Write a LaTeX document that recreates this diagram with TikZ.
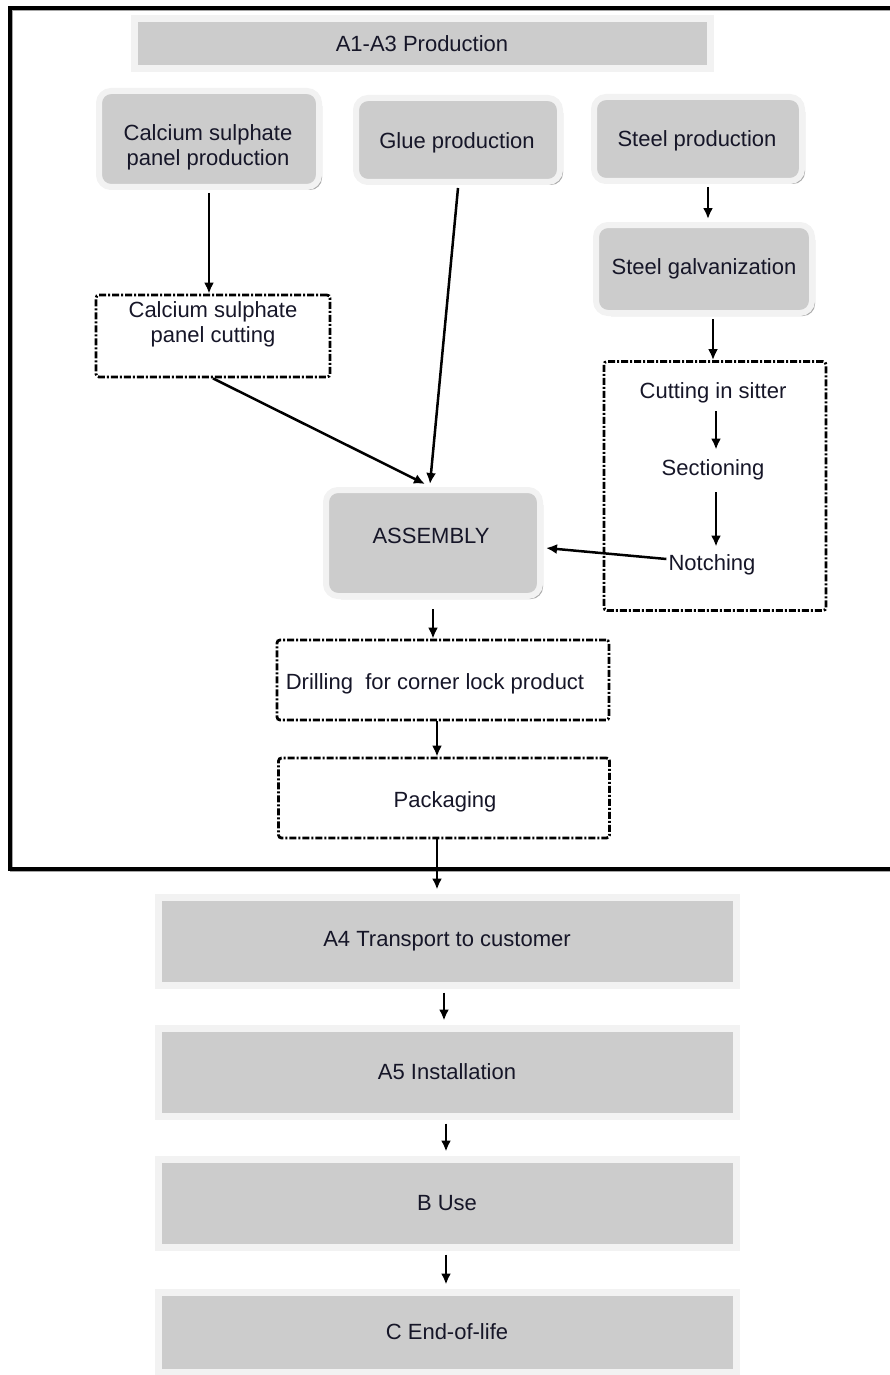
\documentclass[tikz,border=0pt]{standalone}
\usepackage{fontspec}
\setmainfont{Liberation Sans}
\usetikzlibrary{arrows.meta,shadows,calc}
\definecolor{txt}{HTML}{161628}
\definecolor{boxgray}{HTML}{CCCCCC}
\definecolor{rim}{HTML}{F2F2F2}
\definecolor{shade}{HTML}{ABABAB}
\begin{document}
\begin{tikzpicture}[x=1pt,y=-1pt,
  every node/.style={font=\fontsize{22}{25}\selectfont, text=txt, align=center, inner sep=0pt},
  rbox/.style={fill=boxgray, draw=rim, line width=6pt, rounded corners=12pt,
    drop shadow={shadow xshift=3pt, shadow yshift=-3pt, fill=shade, opacity=1}},
  sbox/.style={fill=boxgray, draw=rim, line width=7pt,
    drop shadow={shadow xshift=3pt, shadow yshift=-3pt, fill=shade, opacity=1}},
  dbox/.style={draw=black, line width=2.8pt, dash pattern=on 7pt off 2pt on 2pt off 2pt, rounded corners=3pt},
  arr/.style={draw=black, line width=2.5pt, -{Latex[length=11pt,width=10pt]}},
]
\useasboundingbox (0,0) rectangle (889,1375);
% outer frame
\draw[black!35, line width=3.5pt] (11.5,9.5) rectangle (902,870.5);
\draw[black, line width=3.5pt] (10,8) rectangle (900,869);

\node[sbox, minimum width=576, minimum height=50] (prod) at (422,44) {A1-A3 Production};

\node[rbox, minimum width=220, minimum height=96] (calcprod) at (209,139) {};
\node (calcprodtxt) at (208,147) {Calcium sulphate\\panel production};
\node[rbox, minimum width=204, minimum height=84] (glue) at (458,140) {};
\node (gluetxt) at (457,143) {Glue production};
\node[rbox, minimum width=208, minimum height=84] (steelprod) at (698,139) {};
\node (steelprodtxt) at (697,141) {Steel production};
\node[rbox, minimum width=216, minimum height=88] (galv) at (704,269) {Steel galvanization};

\node[dbox, minimum width=234, minimum height=82] (calccut) at (213,336) {};
\node (calccuttxt) at (213,324) {Calcium sulphate\\panel cutting};

\node[dbox, minimum width=222, minimum height=249] (steelbox) at (715,486) {};
\node (sitter) at (713,393) {Cutting in sitter};
\node (section) at (713,470) {Sectioning};
\node (notch) at (712,565) {Notching};

\node[rbox, minimum width=214, minimum height=106] (assembly) at (433,543) {};
\node (asmtxt) at (431,536) {ASSEMBLY};

\node[dbox, minimum width=332, minimum height=80] (drill) at (443,680) {};
\node (drilltxt) at (435,684) {Drilling\ \ for corner lock product};

\node[dbox, minimum width=331, minimum height=80] (pack) at (444,798) {};
\node (packtxt) at (445,802) {Packaging};

\node[sbox, minimum width=578, minimum height=88] (a4) at (447,941) {A4 Transport to customer};
\node[sbox, minimum width=578, minimum height=88] (a5) at (447,1072) {A5 Installation};
\node[sbox, minimum width=578, minimum height=88] (buse) at (447,1203) {B Use};
\node[sbox, minimum width=578, minimum height=80] (eol) at (447,1332) {C End-of-life};

% connectors
\coordinate (c1) at ($(calcprod.south)+(0,3)$);
\draw[arr] (c1) -- (c1 |- calccut.north);
\draw[arr] (calccut.south) -- ($(assembly.north)+(-8,-3)$);
\draw[arr] ($(glue.south)+(0,3)$) -- ($(assembly.north)+(-3,-3)$);
\coordinate (s1) at ($(galv.north)+(4,0)$);
\draw[arr] (s1 |- steelprod.south) ++(0,3) -- ($(s1)+(0,-3)$);
\coordinate (s2) at ($(galv.south)+(9,3)$);
\draw[arr] (s2) -- (s2 |- steelbox.north);
\draw[arr, shorten <=8pt, shorten >=10pt] ($(sitter.south)+(3,0)$) -- ($(section.north)+(3,0)$);
\draw[arr, shorten <=12pt, shorten >=8pt] ($(section.south)+(3,0)$) -- ($(notch.north)+(4,0)$);
\draw[arr] ($(notch.west)+(-2,-6)$) -- ($(assembly.east)+(3,5)$);
\coordinate (as1) at ($(assembly.south)+(0,10)$);
\draw[arr] (as1) -- (as1 |- drill.north);
\coordinate (d1) at ($(drill.south)+(-6,0)$);
\draw[arr] (d1) -- (d1 |- pack.north);
\coordinate (p1) at ($(pack.south)+(-7,0)$);
\draw[arr] (p1) -- ($(p1 |- a4.north)+(0,-4)$);
\draw[arr] ($(a4.south)+(-3,4)$) -- ($(a5.north)+(-3,-4)$);
\draw[arr] ($(a5.south)+(-1,4)$) -- ($(buse.north)+(-1,-4)$);
\draw[arr] ($(buse.south)+(-1,4)$) -- ($(eol.north)+(-1,-4)$);
\end{tikzpicture}
\end{document}
